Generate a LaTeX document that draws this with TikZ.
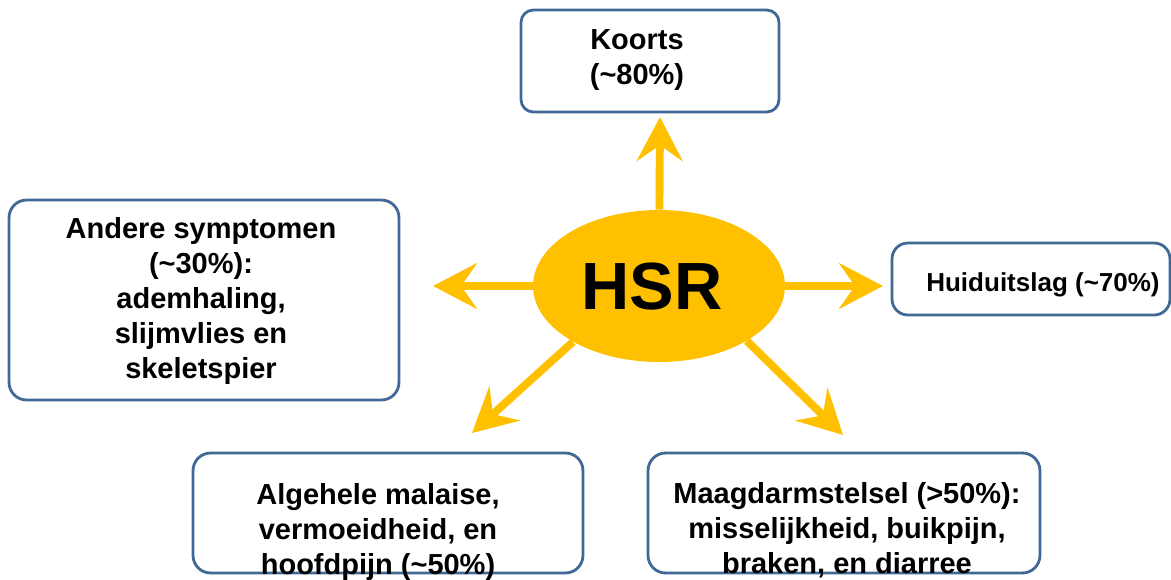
\documentclass[tikz,border=0pt]{standalone}
\usepackage{fontspec}
\setmainfont{Liberation Sans}
\usetikzlibrary{shapes.geometric,arrows.meta}

\definecolor{hsrgold}{RGB}{255,192,0}
\definecolor{boxblue}{RGB}{65,105,150}

\tikzset{
  symbox/.style={draw=boxblue,line width=1.6pt,rounded corners=9pt,fill=white,inner sep=0pt},
  symtext/.style={align=center,font=\fontsize{16.5}{20}\selectfont\bfseries,inner sep=0pt},
  spoke/.style={draw=hsrgold,line width=4.5pt,-{Stealth[length=25pt,width=26pt,inset=9pt]}}
}

\begin{document}
\begin{tikzpicture}[x=0.02cm,y=-0.02cm]
  \useasboundingbox (0,0) rectangle (1171,579);

	% centre
	\node[ellipse,fill=hsrgold,minimum width=5.04cm,minimum height=3.04cm,inner sep=0pt] (hsr) at (659,286) {};
	\node[inner sep=0pt,font=\fontsize{38}{40}\selectfont\bfseries] (hsrtext) at (652,287) {HSR};

	% arrows out of HSR
	\coordinate (koortstip) at (660,117);
	\coordinate (andertip) at (433,286);
	\coordinate (huidtip) at (883,286);
	\coordinate (maltip) at (472,433);
	\coordinate (maagtip) at (843,435);
	\draw[spoke] (hsr) -- (koortstip);
	\draw[spoke] (hsr) -- (andertip);
	\draw[spoke] (hsr) -- (huidtip);
	\draw[spoke] (hsr.213) -- (maltip);
	\draw[spoke] (hsr.-32) -- (maagtip);

	% boxes
	\node[symbox,rounded corners=7pt,minimum width=5.16cm,minimum height=2.04cm] (koortsbox) at (650,61) {};
	\node[symtext] (koorts) at (637,60) {Koorts\\(\textasciitilde80\%)};

	\node[symbox,rounded corners=10pt,minimum width=7.8cm,minimum height=4cm] (anderbox) at (204,300) {};
	\node[symtext] (ander) at (201,301) {Andere symptomen\\(\textasciitilde30\%):\\ademhaling,\\slijmvlies en\\skeletspier};

	\node[symbox,minimum width=5.56cm,minimum height=1.44cm] (huidbox) at (1031,279) {};
	\node[symtext,font=\fontsize{14.8}{18}\selectfont\bfseries] (huid) at (1043,285) {Huiduitslag (\textasciitilde70\%)};

	\node[symbox,rounded corners=10pt,minimum width=7.8cm,minimum height=2.4cm] (malbox) at (388,513) {};
	\node[symtext] (mal) at (378,532) {Algehele malaise,\\vermoeidheid, en\\hoofdpijn (\textasciitilde50\%)};

	\node[symbox,rounded corners=10pt,minimum width=7.84cm,minimum height=2.4cm] (maagbox) at (844,513) {};
	\node[symtext] (maag) at (847,530) {Maagdarmstelsel (>50\%):\\misselijkheid, buikpijn,\\braken, en diarree};
\end{tikzpicture}
\end{document}
